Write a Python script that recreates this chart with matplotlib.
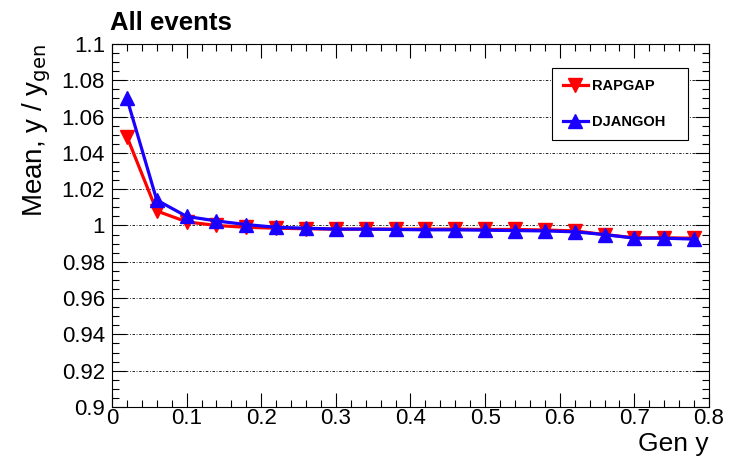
import numpy as np
import matplotlib.pyplot as plt
from matplotlib.ticker import MultipleLocator, FixedFormatter, FixedLocator

plt.rcParams['font.family'] = ['Liberation Sans', 'DejaVu Sans']

# bin centres in gen y
gen_y = [0.02, 0.06, 0.10, 0.14, 0.18, 0.22, 0.26, 0.30, 0.34, 0.38,
         0.42, 0.46, 0.50, 0.54, 0.58, 0.62, 0.66, 0.70, 0.74, 0.78]
rapgap = [1.049, 1.008, 1.002, 1.000, 0.999, 0.9985, 0.9982, 0.998, 0.998, 0.998,
          0.998, 0.998, 0.9978, 0.9978, 0.9975, 0.997, 0.995, 0.9932, 0.9932, 0.993]
djangoh = [1.070, 1.014, 1.005, 1.0025, 1.0005, 0.999, 0.9985, 0.998, 0.998, 0.9978,
           0.9976, 0.9976, 0.9974, 0.9972, 0.997, 0.9965, 0.995, 0.993, 0.993, 0.9925]
y_ticks = [0.9, 0.92, 0.94, 0.96, 0.98, 1.0, 1.02, 1.04, 1.06, 1.08, 1.1]
y_tick_labels = ['0.9', '0.92', '0.94', '0.96', '0.98', '1', '1.02', '1.04', '1.06', '1.08', '1.1']
x_ticks = [0, 0.1, 0.2, 0.3, 0.4, 0.5, 0.6, 0.7, 0.8]
x_tick_labels = ['0', '0.1', '0.2', '0.3', '0.4', '0.5', '0.6', '0.7', '0.8']

fig = plt.figure(figsize=(7.29, 4.63), dpi=100)
ax = fig.add_axes([0.1536, 0.121, 0.819, 0.784])

ax.plot(gen_y, rapgap, color='#ff0000', lw=2.3, marker='v', ms=10, label='RAPGAP')
ax.plot(gen_y, djangoh, color='#1a00ff', lw=2.3, marker='^', ms=10, label='DJANGOH')

ax.set_xlim(0, 0.8)
ax.set_ylim(0.9, 1.1)
ax.xaxis.set_major_locator(FixedLocator(x_ticks))
ax.xaxis.set_major_formatter(FixedFormatter(x_tick_labels))
ax.xaxis.set_minor_locator(MultipleLocator(0.02))
ax.yaxis.set_major_locator(FixedLocator(y_ticks))
ax.yaxis.set_major_formatter(FixedFormatter(y_tick_labels))
ax.yaxis.set_minor_locator(MultipleLocator(0.005))
ax.tick_params(which='both', direction='in', top=True, right=True, labelsize=16)
ax.tick_params(which='major', length=10, width=0.8)
ax.tick_params(which='minor', length=5, width=0.8)
ax.tick_params(axis='x', pad=1)
ax.tick_params(axis='y', pad=5)
ax.grid(axis='y', which='major', linestyle=(0, (3, 2, 1, 2)), color='black', lw=0.6)

ax.set_ylabel('Mean, y / y$_{\\rm gen}$', fontsize=20, loc='top', labelpad=6)
ax.set_xlabel('Gen y', fontsize=19, loc='right', labelpad=2)
ax.set_title('All events', fontsize=18.5, fontweight='bold', loc='left', x=-0.004, pad=10)

leg = ax.legend(loc='upper left', bbox_to_anchor=(0.737, 0.736, 0.228, 0.198), mode='expand',
                fancybox=False, edgecolor='black', prop={'weight': 'bold', 'size': 10.5},
                borderpad=0.75, labelspacing=1.5, handlelength=1.7, handletextpad=0.3,
                borderaxespad=0, framealpha=1)
leg.get_frame().set_linewidth(0.8)

fig.savefig('out.png', dpi=100)
